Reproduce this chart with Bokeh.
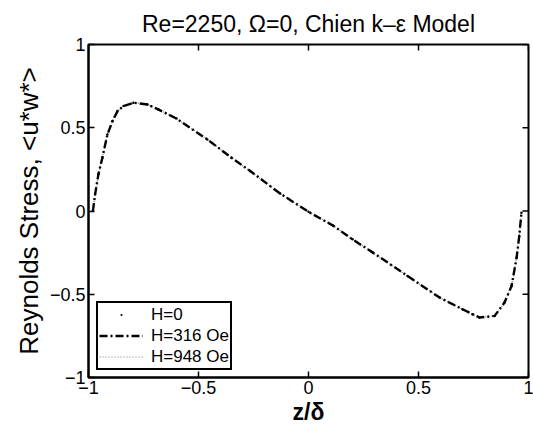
import math
from bokeh.plotting import figure
from bokeh.models import FixedTicker, Legend, LegendItem, Range1d
from bokeh.embed import file_html
from bokeh.resources import INLINE

# ---- data ----
z = [-0.980, -0.970, -0.955, -0.937, -0.914, -0.891, -0.868, -0.841, -0.796,
     -0.732, -0.683, -0.600, -0.460, -0.350, -0.265, -0.129, 0.000, 0.111,
     0.200, 0.293, 0.450, 0.596, 0.700, 0.746, 0.778, 0.846, 0.891, 0.923,
     0.946, 0.958, 0.968]
stress_h0 = [0.00, 0.10, 0.22, 0.32, 0.46, 0.54, 0.60, 0.63, 0.65,
             0.64, 0.61, 0.555, 0.43, 0.32, 0.24, 0.105, -0.005, -0.087,
             -0.17, -0.25, -0.39, -0.52, -0.59, -0.62, -0.64, -0.63, -0.55, -0.45,
             -0.28, -0.15, -0.01]
stress_h316 = [0.00, 0.10, 0.22, 0.32, 0.46, 0.54, 0.60, 0.63, 0.65,
               0.64, 0.61, 0.555, 0.43, 0.32, 0.24, 0.105, -0.005, -0.087,
               -0.17, -0.25, -0.39, -0.52, -0.59, -0.62, -0.64, -0.63, -0.55, -0.45,
               -0.28, -0.15, -0.01]
stress_h948 = [0.00, 0.10, 0.22, 0.32, 0.46, 0.54, 0.60, 0.63, 0.65,
               0.64, 0.61, 0.555, 0.43, 0.32, 0.24, 0.105, -0.005, -0.087,
               -0.17, -0.25, -0.39, -0.52, -0.59, -0.62, -0.64, -0.63, -0.55, -0.45,
               -0.28, -0.15, -0.01]
series_names = ["H=0", "H=316 Oe", "H=948 Oe"]
tick_values = [-1, -0.5, 0, 0.5, 1]
tick_labels = ["\u22121", "\u22120.5", "0", "0.5", "1"]
x_lim = (-1, 1)
y_lim = (-1, 1)

FONT = "Liberation Sans"

p = figure(width=533, height=435, output_backend="svg", toolbar_location=None,
           x_range=Range1d(*x_lim), y_range=Range1d(*y_lim),
           min_border_left=88, min_border_right=5, min_border_top=43,
           min_border_bottom=58, background_fill_color="white",
           border_fill_color="white")
p.grid.visible = False
p.outline_line_color = "black"
p.outline_line_width = 2
p.outline_line_alpha = 1.0

p.title.text = "Re=2250, \u03a9=0, Chien k\u2013\u03b5 Model"
p.title.align = "center"
p.title.text_font = FONT
p.title.text_font_size = "23px"
p.title.text_font_style = "normal"
p.title.text_color = "black"
p.title.standoff = 16

overrides = {v: s for v, s in zip(tick_values, tick_labels)}

for ax in (p.xaxis[0], p.yaxis[0]):
    ax.ticker = FixedTicker(ticks=tick_values)
    ax.major_label_overrides = overrides
    ax.major_tick_in = 6
    ax.major_tick_out = 0
    ax.minor_tick_in = 0
    ax.minor_tick_out = 0
    ax.axis_line_width = 2
    ax.major_tick_line_width = 1.5
    ax.major_label_text_font = FONT
    ax.major_label_text_font_size = "18px"
    ax.major_label_text_color = "black"
    ax.axis_label_text_font = FONT
    ax.axis_label_text_color = "black"
    ax.major_label_standoff = 3

p.xaxis[0].axis_label = "z/\u03b4"
p.xaxis[0].axis_label_text_font_size = "23px"
p.xaxis[0].axis_label_text_font_style = "bold"
p.xaxis[0].axis_label_standoff = 2
p.yaxis[0].axis_label = "Reynolds Stress, <u*w*>"
p.yaxis[0].axis_label_text_font_size = "26px"
p.yaxis[0].axis_label_text_font_style = "normal"
p.yaxis[0].axis_label_standoff = 3

# mirrored inward tick marks on top and right edges (clipped to the frame)
top_y = [y_lim[1]] * len(tick_values)
right_x = [x_lim[1]] * len(tick_values)
p.scatter(tick_values, top_y, marker="dash", size=12, angle=math.pi / 2,
          line_color="black", line_width=1.5)
p.scatter(right_x, tick_values, marker="dash", size=12, angle=0,
          line_color="black", line_width=1.5)

r948 = p.line(z, stress_h948, line_color="#777777", line_width=1.2,
              line_dash="1 2")
r316 = p.line(z, stress_h316, line_color="black", line_width=2.4,
              line_dash="8 3 2 3")
r0 = p.scatter(z, stress_h0, marker="dot", size=10, line_color="black",
               fill_color="black")

legend = Legend(items=[LegendItem(label=series_names[0], renderers=[r0]),
                       LegendItem(label=series_names[1], renderers=[r316]),
                       LegendItem(label=series_names[2], renderers=[r948])],
                location=(8, 7), label_text_font=FONT,
                label_text_font_size="17px", label_text_color="black",
                border_line_color="black", border_line_width=2,
                border_line_alpha=1.0,
                padding=1, spacing=0, margin=0, glyph_width=44,
                glyph_height=21, label_height=21, label_standoff=8,
                background_fill_alpha=1.0)
p.add_layout(legend, "center")

open("out.html", "w").write(file_html(p, INLINE))
